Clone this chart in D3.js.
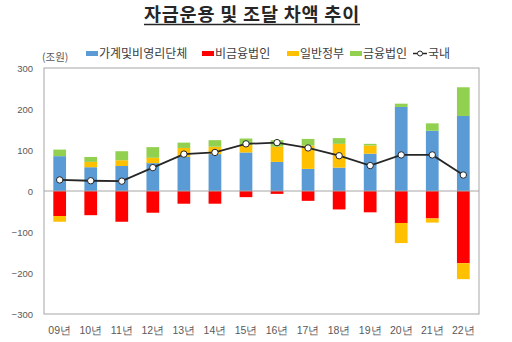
<!DOCTYPE html>
<meta charset="utf-8">
<style>
body { margin: 0; background: #fff; }
svg { display: block; font-family: "Noto Sans CJK KR", "Noto Sans", sans-serif; }
.tick text { fill: #595959; }
</style>
<svg width="512" height="342"></svg>
<script src="https://d3js.org/d3.v7.min.js"></script>
<script>
var years = ["09년", "10년", "11년", "12년", "13년", "14년", "15년", "16년", "17년", "18년", "19년", "20년", "21년", "22년"];
var household = [85, 58, 61, 68, 83, 90, 94, 71, 54, 57, 91, 205, 147, 183];
var nonfin = [-61, -59, -75, -53, -31, -31, -15, -7, -24, -45, -52, -78, -67, -176];
var gov = [-14, 13, 14, 13, 22, 18, 18, 37, 57, 58, 20, -49, -10, -39];
var fin = [16, 12, 22, 26, 13, 16, 16, 16, 16, 14, 4, 8, 18, 70];
var domestic = [27, 25, 24, 57, 90, 94, 115, 118, 105, 86, 62, 88, 88, 39];
var yTicks = [-300, -200, -100, 0, 100, 200, 300];

var keys = ["household", "nonfin", "gov", "fin"];
var names = {household: "가계및비영리단체", nonfin: "비금융법인", gov: "일반정부", fin: "금융법인"};
var colors = {household: "#5b9bd5", nonfin: "#ff0000", gov: "#ffc000", fin: "#92d050"};

var rows = years.map(function(y, i) {
  return {year: y, household: household[i], nonfin: nonfin[i], gov: gov[i], fin: fin[i], domestic: domestic[i]};
});

var svg = d3.select("svg");
var plotL = 44, plotR = 479, plotT = 68, plotB = 314;

var x = d3.scaleBand().domain(years).range([plotL, plotR]).paddingInner(0.59).paddingOuter(0.3);
var y = d3.scaleLinear().domain([-300, 300]).range([plotB, plotT]);

// title
var title = svg.append("text")
    .attr("x", 252).attr("y", 21)
    .attr("text-anchor", "middle")
    .attr("font-size", 18.5).attr("font-weight", "bold")
    .attr("letter-spacing", 0.8)
    .attr("fill", "#262626")
    .text("자금운용 및 조달 차액 추이");
var bb = title.node().getBBox();
svg.append("line")
    .attr("x1", bb.x).attr("x2", bb.x + bb.width)
    .attr("y1", 24.5).attr("y2", 24.5)
    .attr("stroke", "#262626").attr("stroke-width", 1.5);

// plot frame
svg.append("rect")
    .attr("x", plotL).attr("y", plotT)
    .attr("width", plotR - plotL).attr("height", plotB - plotT)
    .attr("fill", "none").attr("stroke", "#a6a6a6");

// y axis
var yAxis = svg.append("g")
    .attr("transform", "translate(" + plotL + ",0)")
    .call(d3.axisLeft(y).tickValues(yTicks).tickSize(0).tickPadding(11));
yAxis.select(".domain").remove();
yAxis.selectAll("text").attr("font-size", 9.5);

// x axis labels
var xAxis = svg.append("g")
    .attr("transform", "translate(0," + plotB + ")")
    .call(d3.axisBottom(x).tickSize(0).tickPadding(13));
xAxis.select(".domain").remove();
xAxis.selectAll("text").attr("font-size", 10.5).attr("fill", "#404040");

// bars
var series = d3.stack().keys(keys).offset(d3.stackOffsetDiverging)(rows);
svg.append("g").selectAll("g")
  .data(series)
  .enter().append("g")
    .attr("fill", function(d) { return colors[d.key]; })
  .selectAll("rect")
  .data(function(d) { return d; })
  .enter().append("rect")
    .attr("x", function(d) { return x(d.data.year); })
    .attr("y", function(d) { return y(d[1]); })
    .attr("height", function(d) { return y(d[0]) - y(d[1]); })
    .attr("width", x.bandwidth());

// zero line
svg.append("line")
    .attr("x1", plotL).attr("x2", plotR)
    .attr("y1", y(0)).attr("y2", y(0))
    .attr("stroke", "#a6a6a6");

// domestic line
var line = d3.line()
    .x(function(d) { return x(d.year) + x.bandwidth() / 2; })
    .y(function(d) { return y(d.domestic); });
svg.append("path")
    .datum(rows)
    .attr("d", line)
    .attr("fill", "none")
    .attr("stroke", "#262626")
    .attr("stroke-width", 1.8);
svg.append("g").selectAll("circle")
  .data(rows)
  .enter().append("circle")
    .attr("cx", function(d) { return x(d.year) + x.bandwidth() / 2; })
    .attr("cy", function(d) { return y(d.domestic); })
    .attr("r", 3.2)
    .attr("fill", "#fff")
    .attr("stroke", "#262626")
    .attr("stroke-width", 1);

// legend
var lg = svg.append("g").attr("font-size", 12).attr("fill", "#404040");
lg.append("text").attr("x", 42).attr("y", 61).attr("font-size", 10.5).attr("fill", "#595959").text("(조원)");
var legendX = {household: 86, nonfin: 202, gov: 287, fin: 350};
keys.forEach(function(k) {
  lg.append("rect").attr("x", legendX[k]).attr("y", 51).attr("width", 12).attr("height", 5).attr("fill", colors[k]);
  lg.append("text").attr("x", legendX[k] + 13).attr("y", 58).text(names[k]);
});
lg.append("line").attr("x1", 413).attr("x2", 427).attr("y1", 53.5).attr("y2", 53.5).attr("stroke", "#262626").attr("stroke-width", 1.5);
lg.append("circle").attr("cx", 420).attr("cy", 53.5).attr("r", 2.5).attr("fill", "#fff").attr("stroke", "#262626");
lg.append("text").attr("x", 428).attr("y", 58).text("국내");
</script>
